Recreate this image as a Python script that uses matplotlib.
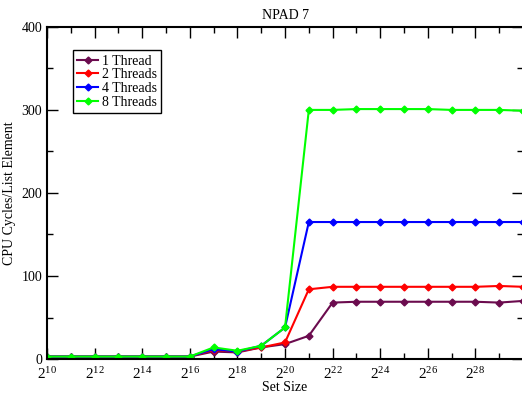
import matplotlib
matplotlib.use("Agg")
import matplotlib.pyplot as plt
from matplotlib.ticker import MultipleLocator

plt.rcParams['font.family'] = ['Liberation Serif', 'DejaVu Serif']
plt.rcParams['mathtext.fontset'] = 'custom'
plt.rcParams['mathtext.rm'] = 'Liberation Serif'

# set size exponents (2^n)
exponents = list(range(10, 31))
one_thread = [3, 3, 3, 3, 3, 3, 3, 9, 8, 14, 18, 28, 68, 69, 69, 69, 69, 69, 69, 68, 70]
two_threads = [3, 3, 3, 3, 3, 3, 3, 11, 9, 14, 20, 84, 87, 87, 87, 87, 87, 87, 87, 88, 87]
four_threads = [3, 3, 3, 3, 3, 3, 3, 12, 9, 16, 38, 165, 165, 165, 165, 165, 165, 165, 165, 165, 165]
eight_threads = [3, 3, 3, 3, 3, 3, 3, 14, 10, 16, 38, 300, 300, 301, 301, 301, 301, 300, 300, 300, 299]

series = [
    ("1 Thread", one_thread, "#6b0b4e"),
    ("2 Threads", two_threads, "#ff0000"),
    ("4 Threads", four_threads, "#0000ff"),
    ("8 Threads", eight_threads, "#00ff00"),
]

fig = plt.figure(figsize=(5.22, 3.95), dpi=100)
ax = fig.add_axes([0.090, 0.091, 0.912, 0.841])

for name, vals, col in series:
    ax.plot(exponents, vals, color=col, lw=1.5, marker='D', ms=3.5, label=name)

ax.set_xlim(10, 30)
ax.set_ylim(0, 400)

ax.xaxis.set_minor_locator(MultipleLocator(1))
ax.yaxis.set_major_locator(MultipleLocator(100))
ax.yaxis.set_minor_locator(MultipleLocator(50))
xt = list(range(10, 30, 2))
ax.set_xticks(xt)
ax.set_xticklabels([r'$\mathregular{2^{%d}}$' % e for e in xt])

ax.tick_params(which='both', direction='in', top=True, right=True, width=1)
ax.tick_params(which='major', length=8, labelsize=10)
ax.tick_params(axis='x', which='major', labelsize=11, pad=5)
ax.tick_params(which='minor', length=4)

for s in ax.spines.values():
    s.set_linewidth(1.5)

ax.set_xlabel("Set Size", fontsize=10, labelpad=-1)
ax.set_ylabel("CPU Cycles/List Element", fontsize=10, labelpad=4)
ax.set_title("NPAD 7", fontsize=10, pad=6)

leg = ax.legend(loc='upper left', bbox_to_anchor=(0.04, 0.95), fontsize=10,
                frameon=True, fancybox=False, edgecolor='black', framealpha=1,
                handlelength=1.5, handletextpad=0.3, labelspacing=0.05, borderpad=0.3)
leg.get_frame().set_linewidth(1)

fig.savefig("out.png", dpi=100)
